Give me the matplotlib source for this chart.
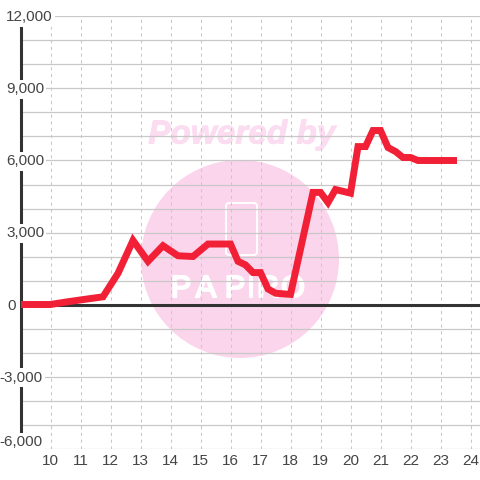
import matplotlib
matplotlib.use('Agg')
import matplotlib.pyplot as plt
import matplotlib.patheffects as pe
from matplotlib.patches import Circle, FancyBboxPatch

# data
hours = [9, 10, 10.5, 11, 11.75, 12.25, 12.75, 13.25, 13.75, 14.25, 14.75, 15.25, 16,
         16.25, 16.5, 16.75, 17, 17.25, 17.5, 18, 18.75, 19, 19.25, 19.5, 20, 20.25,
         20.5, 20.75, 21, 21.25, 21.5, 21.75, 22, 22.25, 23.55]
values = [0, 0, 100, 190, 320, 1300, 2670, 1800, 2450, 2030, 2000, 2520, 2520,
          1800, 1650, 1330, 1330, 650, 470, 420, 4670, 4670, 4250, 4790, 4640, 6580,
          6580, 7250, 7250, 6540, 6375, 6125, 6125, 6000, 6000]
x_ticks = list(range(10, 25))
y_ticks = [-6000, -3000, 0, 3000, 6000, 9000, 12000]
y_minor = [-5000, -4000, -2000, -1000, 1000, 2000, 4000, 5000, 7000, 8000, 10000, 11000]

DARK = '#333333'
GRID = '#c8c8c8'
PINK = '#fbd5ec'

fig = plt.figure(figsize=(4.8, 4.8), dpi=100)
plt.rcParams['font.family'] = ['Liberation Sans', 'DejaVu Sans']

# watermark sits behind the chart, in pixel coordinates
bg = fig.add_axes([0, 0, 1, 1], zorder=0)
bg.set_xlim(0, 480)
bg.set_ylim(480, 0)
bg.axis('off')
bg.add_patch(Circle((240, 259), 99, color=PINK, lw=0))
bg.text(242, 135, 'Powered by', color='#fcdcf0', fontsize=24, ha='center', va='center',
        family='Liberation Sans', weight='bold', style='italic',
        path_effects=[pe.withStroke(linewidth=0.6, foreground='#fcdcf0')])
bg.add_patch(FancyBboxPatch((226, 203), 31, 52, boxstyle='round,pad=0,rounding_size=3',
                            fc='none', ec='white', lw=1.4))
for lx, letter in zip([181, 206, 235, 251, 268, 293], 'PAPIRO'):
    bg.text(lx, 289, letter, color='white', fontsize=22, ha='center', va='center',
            family=['Liberation Sans Narrow', 'Liberation Sans'],
            path_effects=[pe.withStroke(linewidth=1.5, foreground='white')])

ax = fig.add_axes([20.5 / 480, (480 - 448.5) / 480, 459.5 / 480, 432 / 480], zorder=1)
ax.patch.set_alpha(0)
ax.set_xlim(9, 9 + 459.5 / 30)
ax.set_ylim(-6000, 12000)

for s in ['top', 'right', 'bottom']:
    ax.spines[s].set_visible(False)
ax.spines['left'].set_color(DARK)
ax.spines['left'].set_linewidth(2.2)
ax.spines['left'].set_zorder(2)

ax.set_xticks(x_ticks)
ax.set_yticks(y_ticks)
ax.set_yticks(y_minor, minor=True)
ax.set_yticklabels([])
ax.tick_params(which='both', length=0)
ax.tick_params(axis='x', labelsize=11, labelcolor='#444444', pad=4)
ax.grid(axis='y', which='both', color=GRID, lw=0.9)
ax.grid(axis='x', color=GRID, lw=0.75, ls=(0, (3, 3.5)))
ax.set_axisbelow(True)

ax.axhline(0, color=DARK, lw=2.2, zorder=3)
ax.plot(hours, values, color='#f22036', lw=5, solid_joinstyle='miter',
        solid_capstyle='butt', zorder=4)

# y labels are not aligned the same way in the original
label_x = {12000: (6, 'left'), 9000: (6, 'left'), 6000: (6, 'left'), 3000: (6, 'left'),
           0: (16, 'right'), -3000: (43, 'right'), -6000: (43, 'right')}
for v in y_ticks:
    px, ha = label_x[v]
    dy = 6 if v == -6000 else -1
    ax.annotate(f'{v:,}', xy=(px, v), xycoords=('figure pixels', 'data'),
                xytext=(0, dy), textcoords='offset pixels', ha=ha, va='center',
                fontsize=11, color='#444444', annotation_clip=False, zorder=3.5,
                bbox=dict(fc='white', ec='none', pad=1.5))

fig.savefig('out.png', dpi=100)
